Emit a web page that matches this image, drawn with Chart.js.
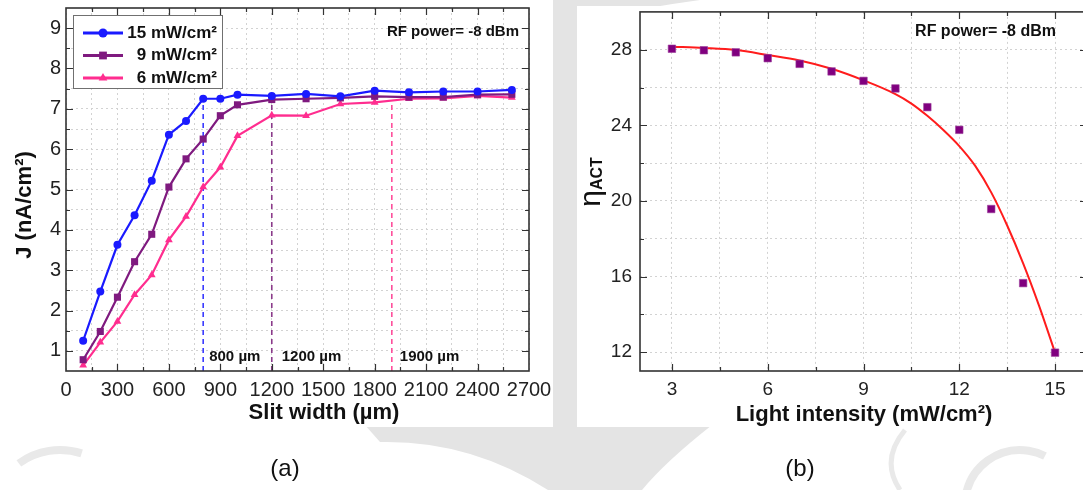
<!DOCTYPE html>
<html>
<head>
<meta charset="utf-8">
<script src="https://cdn.jsdelivr.net/npm/chart.js@4.4.1/dist/chart.umd.min.js"></script>
<style>
  html, body { margin: 0; padding: 0; background: #fff; }
  #page { position: relative; width: 1083px; height: 490px; overflow: hidden; }
  #bg { position: absolute; left: 0; top: 0; }
  .panel { position: absolute; overflow: hidden; background: #fff; }
  #wrapA { left: 0; top: 0; width: 553px; height: 427px; }
  #wrapB { left: 577px; top: 6px; width: 506px; height: 421px; }
  .cap { position: absolute; top: 468px; transform: translate(-50%, -50%);
         font: 24px 'Liberation Sans', Arial, sans-serif; color: #111; }
</style>
</head>
<body>
<div id="page">
  <canvas id="bg" width="1083" height="490"></canvas>
  <div class="panel" id="wrapA"><canvas id="chartA" width="553" height="427"></canvas></div>
  <div class="panel" id="wrapB"><canvas id="chartB" width="520" height="421"></canvas></div>
  <div class="cap" style="left:285px">(a)</div>
  <div class="cap" style="left:800px">(b)</div>
</div>
<script>
const FONT = "'Liberation Sans', Arial, sans-serif";

// (a) photocurrent density vs slit width
const slitWidths = [100, 200, 300, 400, 500, 600, 700, 800, 900, 1000, 1200, 1400, 1600, 1800, 2000, 2200, 2400, 2600];
const j15 = [1.25, 2.47, 3.63, 4.36, 5.22, 6.36, 6.70, 7.25, 7.25, 7.35, 7.32, 7.37, 7.31, 7.45, 7.41, 7.43, 7.43, 7.47];
const j9  = [0.78, 1.48, 2.33, 3.21, 3.89, 5.06, 5.76, 6.25, 6.83, 7.10, 7.23, 7.25, 7.27, 7.31, 7.29, 7.29, 7.35, 7.36];
const j6  = [0.64, 1.21, 1.73, 2.39, 2.88, 3.75, 4.33, 5.06, 5.55, 6.33, 6.84, 6.83, 7.12, 7.16, 7.25, 7.26, 7.32, 7.28];
const seriesLabels = ['15 mW/cm²', '9 mW/cm²', '6 mW/cm²'];
const cutoffWidths = [800, 1200, 1900];
const cutoffTops = [7.25, 7.23, 7.22];
const cutoffLabels = ['800 µm', '1200 µm', '1900 µm'];
const slitTicks = [0, 300, 600, 900, 1200, 1500, 1800, 2100, 2400, 2700];
const jTicks = [1, 2, 3, 4, 5, 6, 7, 8, 9];

// (b) efficiency vs light intensity, with fitted curve
const intensities = [3, 4, 5, 6, 7, 8, 9, 10, 11, 12, 13, 14, 15];
const etaAct = [28.05, 27.97, 27.86, 27.55, 27.25, 26.85, 26.35, 25.95, 24.96, 23.76, 19.57, 15.65, 11.97];
const fitIntensity = [3, 4, 5, 6, 7, 8, 9, 10, 10.5, 11, 11.5, 12, 12.5, 13, 13.5, 14, 14.5, 15];
const fitEta = [28.16, 28.09, 27.98, 27.72, 27.43, 26.99, 26.38, 25.65, 25.15, 24.5, 23.75, 22.9, 21.85, 20.45, 18.7, 16.7, 14.45, 11.97];
const intensityTicks = [3, 6, 9, 12, 15];
const etaTicks = [12, 16, 20, 24, 28];

const rfText = 'RF power= -8 dBm';

// background watermark, partly hidden behind the two white panels
function drawWatermark() {
  const ctx = document.getElementById('bg').getContext('2d');
  ctx.fillStyle = '#fff';
  ctx.fillRect(0, 0, 1083, 490);
  ctx.fillStyle = '#e4e4e4';
  ctx.strokeStyle = '#e9e9e9';
  ctx.fillRect(553, 0, 24, 432);
  ctx.beginPath();
  ctx.moveTo(553, 0); ctx.lineTo(700, 0);
  ctx.quadraticCurveTo(640, 8, 577, 22); ctx.closePath(); ctx.fill();
  ctx.beginPath();
  ctx.moveTo(365, 425); ctx.lineTo(712, 425);
  ctx.quadraticCurveTo(665, 462, 642, 490);
  ctx.lineTo(548, 490);
  ctx.quadraticCurveTo(470, 440, 380, 442);
  ctx.closePath(); ctx.fill();
  ctx.lineWidth = 8;
  ctx.beginPath(); ctx.arc(1020, 505, 55, Math.PI * 1.05, Math.PI * 1.65); ctx.stroke();
  ctx.beginPath(); ctx.arc(60, 520, 70, Math.PI * 1.3, Math.PI * 1.6); ctx.stroke();
  ctx.lineWidth = 5;
  ctx.beginPath(); ctx.moveTo(905, 430); ctx.quadraticCurveTo(880, 460, 900, 490); ctx.stroke();
}

// majors plus half-step minors inside the axis range
function tickValues(majors, min, max) {
  const half = (majors[1] - majors[0]) / 2;
  const vals = new Set(majors);
  majors.forEach(m => [m - half, m + half].forEach(v => { if (v > min && v < max) vals.add(v); }));
  return [...vals].filter(v => v >= min && v <= max).sort((a, b) => a - b);
}

function axis(o) {
  return {
    type: 'linear',
    position: o.position,
    min: o.min,
    max: o.max,
    afterBuildTicks: s => {
      s.ticks = tickValues(o.majors, o.min, o.max).map(v => ({ value: v, main: o.majors.includes(v) }));
    },
    afterFit: s => {
      if (o.position === 'bottom') s.height = o.size; else s.width = o.size;
      s.paddingLeft = s.paddingRight = s.paddingTop = s.paddingBottom = 0;
    },
    ticks: {
      autoSkip: false, minRotation: 0, maxRotation: 0,
      padding: o.pad, color: '#222',
      font: { family: FONT, size: o.fontSize },
      callback: v => o.majors.includes(v) ? String(v) : ''
    },
    grid: { drawTicks: false, color: '#d2d2d2', lineWidth: 1 },
    border: { display: false, dash: [2, 3] }
  };
}

// closed frame with inward ticks on all four sides
const frameTicks = {
  id: 'frameTicks',
  afterDraw(chart) {
    const { ctx, chartArea: a, scales: { x, y } } = chart;
    ctx.save();
    ctx.setLineDash([]);
    ctx.strokeStyle = '#333';
    ctx.lineWidth = 1.2;
    ctx.beginPath();
    x.ticks.forEach(t => {
      if (t.value <= x.min || t.value >= x.max) return;
      const px = Math.round(x.getPixelForValue(t.value)) + 0.5;
      const len = t.main ? 7 : 4;
      ctx.moveTo(px, a.bottom); ctx.lineTo(px, a.bottom - len);
      ctx.moveTo(px, a.top); ctx.lineTo(px, a.top + len);
    });
    y.ticks.forEach(t => {
      if (t.value <= y.min || t.value >= y.max) return;
      const py = Math.round(y.getPixelForValue(t.value)) + 0.5;
      const len = t.main ? 7 : 4;
      ctx.moveTo(a.left, py); ctx.lineTo(a.left + len, py);
      ctx.moveTo(a.right, py); ctx.lineTo(a.right - len, py);
    });
    ctx.stroke();
    ctx.lineWidth = 1.6;
    ctx.strokeRect(a.left, a.top, a.right - a.left, a.bottom - a.top);
    ctx.restore();
  }
};

// free text: axis titles, notes, cutoff labels
const textMarks = {
  id: 'textMarks',
  afterDraw(chart, args, opts) {
    const { ctx, scales } = chart;
    (opts.items || []).forEach(t => {
      const px = t.xv !== undefined ? scales.x.getPixelForValue(t.xv) + (t.dx || 0) : t.x;
      const py = t.yv !== undefined ? scales.y.getPixelForValue(t.yv) : t.y;
      ctx.save();
      ctx.translate(px, py);
      if (t.rotate) ctx.rotate(t.rotate);
      ctx.fillStyle = t.color || '#111';
      ctx.textBaseline = 'middle';
      const parts = t.parts || [{ text: t.text, font: t.font, dy: 0 }];
      let total = 0;
      parts.forEach(p => { ctx.font = p.font; p.w = ctx.measureText(p.text).width; total += p.w; });
      let cx = t.align === 'left' ? 0 : t.align === 'right' ? -total : -total / 2;
      ctx.textAlign = 'left';
      parts.forEach(p => { ctx.font = p.font; ctx.fillText(p.text, cx, p.dy || 0); cx += p.w; });
      ctx.restore();
    });
  }
};

function drawMarker(ctx, style, x, y, r, color) {
  ctx.fillStyle = color;
  ctx.beginPath();
  if (style === 'rect') {
    const s = r * Math.SQRT1_2;
    ctx.rect(x - s, y - s, 2 * s, 2 * s);
  } else if (style === 'triangle') {
    for (let k = 0; k < 3; k++) {
      const ang = k * 2 * Math.PI / 3;
      const px = x + Math.sin(ang) * r, py = y - Math.cos(ang) * r;
      if (k === 0) ctx.moveTo(px, py); else ctx.lineTo(px, py);
    }
    ctx.closePath();
  } else {
    ctx.arc(x, y, r, 0, Math.PI * 2);
  }
  ctx.fill();
}

// boxed legend in the upper left of the plot
const legendBox = {
  id: 'legendBox',
  afterDraw(chart, args, opts) {
    if (!opts.box) return;
    const b = opts.box;
    const ctx = chart.ctx;
    ctx.save();
    ctx.fillStyle = '#fff';
    ctx.fillRect(b.x, b.y, b.w, b.h);
    ctx.strokeStyle = '#707070';
    ctx.lineWidth = 1;
    ctx.strokeRect(b.x + 0.5, b.y + 0.5, b.w, b.h);
    chart.data.datasets.filter(d => d.inLegend).forEach((d, i) => {
      const yy = b.firstRow + i * b.rowGap;
      ctx.strokeStyle = d.borderColor;
      ctx.lineWidth = d.borderWidth + 0.6;
      ctx.beginPath(); ctx.moveTo(b.lineX0, yy); ctx.lineTo(b.lineX1, yy); ctx.stroke();
      drawMarker(ctx, d.pointStyle, (b.lineX0 + b.lineX1) / 2, yy, d.pointRadius + 0.5, d.borderColor);
      ctx.fillStyle = '#111';
      ctx.font = 'bold 17px ' + FONT;
      ctx.textAlign = 'right';
      ctx.textBaseline = 'middle';
      ctx.fillText(d.label, b.textRight, yy);
    });
    ctx.restore();
  }
};

const colorsA = ['#1a1aff', '#7f1a7f', '#ff2d8f'];
const stylesA = ['circle', 'rect', 'triangle'];
const radiiA = [4, 5, 4.5];
const dashColors = ['#3a3aff', '#8a3a8a', '#ff4f9c'];

function seriesA(values, i) {
  return {
    label: seriesLabels[i],
    inLegend: true,
    data: slitWidths.map((x, k) => ({ x: x, y: values[k] })),
    borderColor: colorsA[i],
    backgroundColor: colorsA[i],
    borderWidth: 2.2,
    pointStyle: stylesA[i],
    pointRadius: radiiA[i],
    pointBorderWidth: 0,
    tension: 0,
    order: 0
  };
}

const yMinA = 0.5;
const cutoffSets = cutoffWidths.map((w, i) => ({
  data: [{ x: w, y: yMinA }, { x: w, y: cutoffTops[i] }],
  borderColor: dashColors[i],
  borderWidth: 1.6,
  borderDash: [5, 4],
  pointRadius: 0,
  order: 1
}));

const common = {
  type: 'line',
  plugins: [frameTicks, textMarks, legendBox]
};

drawWatermark();

new Chart(document.getElementById('chartA'), {
  ...common,
  data: { datasets: [seriesA(j15, 0), seriesA(j9, 1), seriesA(j6, 2), ...cutoffSets] },
  options: {
    responsive: false,
    devicePixelRatio: 1,
    animation: false,
    events: [],
    layout: { padding: { left: 0, top: 8, right: 24, bottom: 2 } },
    scales: {
      x: axis({ position: 'bottom', min: 0, max: 2700, majors: slitTicks, size: 54, pad: 7, fontSize: 20 }),
      y: axis({ position: 'left', min: yMinA, max: 9.5, majors: jTicks, size: 66, pad: 5, fontSize: 20 })
    },
    plugins: {
      legend: { display: false },
      tooltip: { enabled: false },
      legendBox: { box: { x: 73, y: 15, w: 149, h: 73, firstRow: 33, rowGap: 22.5, lineX0: 83, lineX1: 123, textRight: 217 } },
      textMarks: {
        items: [
          { text: 'Slit width (µm)', font: 'bold 22px ' + FONT, x: 324, y: 413 },
          { text: 'J (nA/cm²)', font: 'bold 22px ' + FONT, x: 25, y: 205, rotate: -Math.PI / 2 },
          { text: rfText, font: 'bold 15px ' + FONT, x: 519, y: 32, align: 'right' },
          ...cutoffLabels.map((t, i) => ({
            text: t, font: 'bold 15px ' + FONT, xv: cutoffWidths[i], dx: [6, 10, 8][i], yv: 0.85, align: 'left'
          }))
        ]
      }
    }
  }
});

new Chart(document.getElementById('chartB'), {
  ...common,
  data: {
    datasets: [
      {
        data: intensities.map((x, k) => ({ x: x, y: etaAct[k] })),
        showLine: false,
        pointStyle: 'rect',
        pointRadius: 5.3,
        pointBackgroundColor: '#80007f',
        pointBorderColor: '#9a3d9a',
        pointBorderWidth: 0.6,
        order: 0
      },
      {
        data: fitIntensity.map((x, k) => ({ x: x, y: fitEta[k] })),
        borderColor: '#ff1c1c',
        borderWidth: 2,
        pointRadius: 0,
        cubicInterpolationMode: 'monotone',
        order: 1
      }
    ]
  },
  options: {
    responsive: false,
    devicePixelRatio: 1,
    animation: false,
    events: [],
    layout: { padding: { left: 0, top: 1, right: 10, bottom: 2 } },
    scales: {
      x: axis({ position: 'bottom', min: 2, max: 16, majors: intensityTicks, size: 54, pad: 7, fontSize: 19 }),
      y: axis({ position: 'left', min: 11, max: 30, majors: etaTicks, size: 63, pad: 8, fontSize: 19 })
    },
    plugins: {
      legend: { display: false },
      tooltip: { enabled: false },
      textMarks: {
        items: [
          { text: 'Light intensity (mW/cm²)', font: 'bold 22px ' + FONT, x: 287, y: 409 },
          {
            x: 15, y: 176, rotate: -Math.PI / 2,
            parts: [
              { text: 'η', font: '30px ' + FONT, dy: 0 },
              { text: 'ACT', font: 'bold 16px ' + FONT, dy: 6 }
            ]
          },
          { text: rfText, font: 'bold 16px ' + FONT, x: 479, y: 26, align: 'right' }
        ]
      }
    }
  }
});
</script>
</body>
</html>
